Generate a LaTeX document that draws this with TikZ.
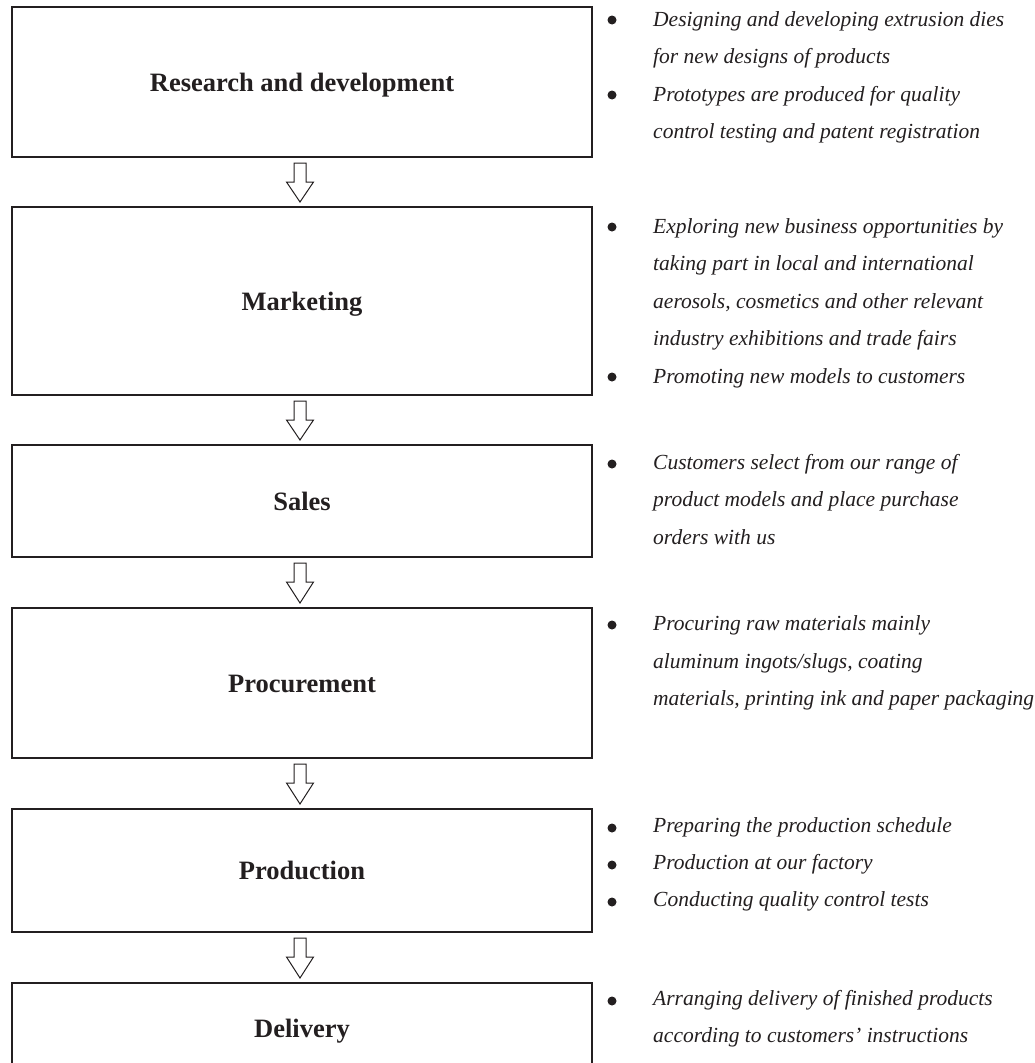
\documentclass[tikz,border=0pt]{standalone}
\usepackage{fontspec}
\setmainfont{Liberation Serif}
\usetikzlibrary{calc}
\definecolor{ink}{RGB}{35,31,32}
\newcommand{\flowarrow}[2]{%
  \draw[arrowshape] ($(#1.south)+(-8,5)$) -- ($(#1.south)+(4,5)$) -- ($(#1.south)+(4,24)$)
    -- ($(#1.south)+(11.5,24)$) -- ($(#2.north)+(-2,-4)$) -- ($(#1.south)+(-15.5,24)$)
    -- ($(#1.south)+(-8,24)$) -- cycle;}
\begin{document}
\begin{tikzpicture}[x=1pt,y=-1pt,
  box/.style={draw=ink,line width=2pt,minimum width=580pt,inner sep=0pt,
    text height=18pt,text depth=0pt,
    font=\fontsize{26.5}{30}\selectfont\bfseries,text=ink},
  arrowshape/.style={draw=ink,line width=1pt,fill=white,line join=miter},
  item/.style={anchor=base west,inner sep=0pt,align=left,text=ink,
    font=\fontsize{21.5}{37.5}\selectfont\itshape},
  dot/.style={circle,fill=ink,inner sep=0pt,minimum size=9pt}]
\useasboundingbox (0,0) rectangle (1035,1063);
\clip (0,0) rectangle (1035,1063);
\fill[white] (0,0) rectangle (1035,1063);
% boxes
\node[box,minimum height=150pt] (rd) at (302,82) {Research and development};
\node[box,minimum height=188pt] (mk) at (302,301) {Marketing};
\node[box,minimum height=112pt] (sa) at (302,501) {Sales};
\node[box,minimum height=150pt] (pc) at (302,683) {Procurement};
\node[box,minimum height=123pt] (pr) at (302,870.5) {Production};
\node[box,minimum height=90pt] (de) at (302,1028) {Delivery};
% arrows
\flowarrow{rd}{mk}
\flowarrow{mk}{sa}
\flowarrow{sa}{pc}
\flowarrow{pc}{pr}
\flowarrow{pr}{de}
% descriptions (anchor = baseline of the last line)
\node[dot] (d1) at (612,20) {};
\node[item] (t1) at (653,63.5) {Designing and developing extrusion dies\\for new designs of products};
\node[dot] (d2) at (612,95) {};
\node[item] (t2) at (653,138.5) {Prototypes are produced for quality\\control testing and patent registration};
\node[dot] (d3) at (612,227) {};
\node[item] (t3) at (653,345.5) {Exploring new business opportunities by\\taking part in local and international\\aerosols, cosmetics and other relevant\\industry exhibitions and trade fairs};
\node[dot] (d4) at (612,377) {};
\node[item] (t4) at (653,383) {Promoting new models to customers};
\node[dot] (d5) at (612,464) {};
\node[item] (t5) at (653,544) {Customers select from our range of\\product models and place purchase\\orders with us};
\node[dot] (d6) at (612,625) {};
\node[item] (t6) at (653,705.5) {Procuring raw materials mainly\\aluminum ingots/slugs, coating\\materials, printing ink and paper packaging};
\node[dot] (d7) at (612,828) {};
\node[item] (t7) at (653,832) {Preparing the production schedule};
\node[dot] (d8) at (612,865) {};
\node[item] (t8) at (653,869) {Production at our factory};
\node[dot] (d9) at (612,902) {};
\node[item] (t9) at (653,906) {Conducting quality control tests};
\node[dot] (d10) at (612,1001) {};
\node[item] (t10) at (653,1042.5) {Arranging delivery of finished products\\according to customers’ instructions};
\end{tikzpicture}
\end{document}
